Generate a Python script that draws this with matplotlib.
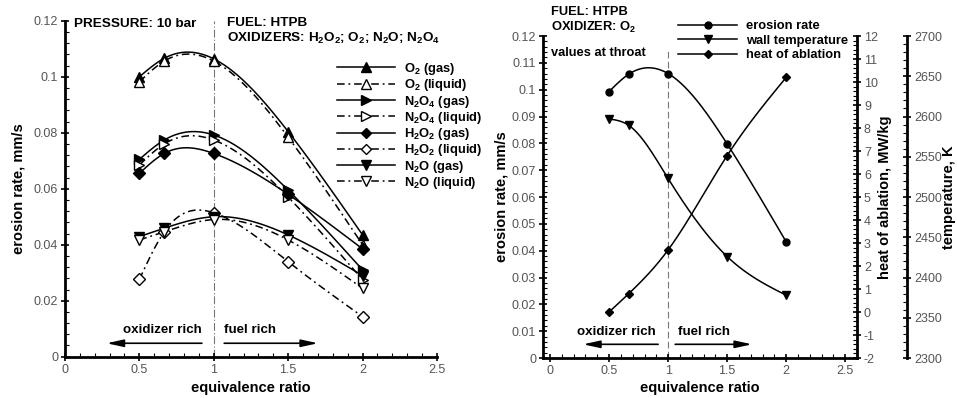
import numpy as np
import matplotlib
matplotlib.use('Agg')
import matplotlib.pyplot as plt
from matplotlib.lines import Line2D
from matplotlib.ticker import MultipleLocator, FuncFormatter

plt.rcParams['font.family'] = ['Liberation Sans', 'DejaVu Sans']
plt.rcParams['mathtext.fontset'] = 'custom'
plt.rcParams['mathtext.rm'] = 'Liberation Sans:bold'
plt.rcParams['mathtext.default'] = 'rm'

# equivalence ratio
phi = [0.5, 0.667, 1.0, 1.5, 2.0]

# erosion rate [mm/s] at 10 bar, HTPB fuel
o2_gas = [0.1000, 0.1066, 0.1064, 0.0804, 0.0435]
o2_liq = [0.0982, 0.1056, 0.1056, 0.0784, 0.0400]
n2o4_gas = [0.0705, 0.0774, 0.0792, 0.0595, 0.0310]
n2o4_liq = [0.0685, 0.0760, 0.0774, 0.0570, 0.0275]
h2o2_gas = [0.0655, 0.0726, 0.0726, 0.0580, 0.0385]
h2o2_liq = [0.0276, 0.0446, 0.0514, 0.0339, 0.0143]
n2o_gas = [0.0429, 0.0459, 0.0500, 0.0435, 0.0290]
n2o_liq = [0.0417, 0.0446, 0.0490, 0.0417, 0.0244]

# O2 / HTPB, values at throat
erosion = [0.0993, 0.1058, 0.1060, 0.0798, 0.0433]
wall_temp = [2597, 2589, 2523, 2426, 2378]
heat_abl = [0.0, 0.8, 2.7, 6.8, 10.2]


def spline(x, y, n=200):
    # natural cubic spline, only used to draw the smooth line through the points
    x = np.asarray(x, float)
    y = np.asarray(y, float)
    h = np.diff(x)
    m = len(x)
    A = np.zeros((m, m))
    b = np.zeros(m)
    A[0, 0] = A[-1, -1] = 1
    for i in range(1, m - 1):
        A[i, i - 1] = h[i - 1]
        A[i, i] = 2 * (h[i - 1] + h[i])
        A[i, i + 1] = h[i]
        b[i] = 3 * ((y[i + 1] - y[i]) / h[i] - (y[i] - y[i - 1]) / h[i - 1])
    c = np.linalg.solve(A, b)
    xs = np.linspace(x[0], x[-1], n)
    k = np.clip(np.searchsorted(x, xs) - 1, 0, m - 2)
    dx = xs - x[k]
    bb = (y[k + 1] - y[k]) / h[k] - h[k] * (2 * c[k] + c[k + 1]) / 3
    d = (c[k + 1] - c[k]) / (3 * h[k])
    return xs, y[k] + bb * dx + c[k] * dx ** 2 + d * dx ** 3


dashdot = (0, (5, 2.5, 1.2, 2.5))
fmt = FuncFormatter(lambda v, p: '%g' % round(v, 4))
tick_col = '#555555'
lab_size = 10.5
txt_size = 9.3


def style_ticks(ax, axis='both'):
    ax.tick_params(axis=axis, which='major', direction='inout', length=6, width=1.2,
                   labelsize=9, labelcolor=tick_col, pad=2)
    ax.tick_params(axis=axis, which='minor', direction='in', length=3, width=0.8)


fig = plt.figure(figsize=(9.57, 3.98), dpi=100)

# ---------------- left: erosion rate for all oxidizers
ax = fig.add_axes([0.0679, 0.1038, 0.3887, 0.844])
series = [
    (o2_gas, '^', 'k', '-', 'O$_2$ (gas)'),
    (o2_liq, '^', 'w', dashdot, 'O$_2$ (liquid)'),
    (n2o4_gas, '>', 'k', '-', 'N$_2$O$_4$ (gas)'),
    (n2o4_liq, '>', 'w', dashdot, 'N$_2$O$_4$ (liquid)'),
    (h2o2_gas, 'D', 'k', '-', 'H$_2$O$_2$ (gas)'),
    (h2o2_liq, 'D', 'w', dashdot, 'H$_2$O$_2$ (liquid)'),
    (n2o_gas, 'v', 'k', '-', 'N$_2$O (gas)'),
    (n2o_liq, 'v', 'w', dashdot, 'N$_2$O (liquid)'),
]
handles = []
for vals, mk, fc, ls, lab in series:
    ms = 6.5 if mk == 'D' else 7.5
    xs, ys = spline(phi, vals)
    ax.plot(xs, ys, color='k', lw=1.1, ls=ls, zorder=2)
    ax.plot(phi, vals, ls='none', marker=mk, ms=ms, mfc=fc, mec='k', mew=1.0, zorder=3)
    handles.append(Line2D([], [], color='k', lw=1.1, ls=ls, marker=mk, ms=ms - 1,
                          mfc=fc, mec='k', mew=1.0, label=lab))

ax.axvline(1.0, color='#777777', lw=0.8, ls=(0, (7, 2, 1, 2)), zorder=1)
ax.set_xlim(0, 2.5)
ax.set_ylim(0, 0.12)
ax.xaxis.set_major_locator(MultipleLocator(0.5))
ax.xaxis.set_minor_locator(MultipleLocator(0.1))
ax.yaxis.set_major_locator(MultipleLocator(0.02))
ax.yaxis.set_minor_locator(MultipleLocator(0.004))
ax.xaxis.set_major_formatter(fmt)
ax.yaxis.set_major_formatter(fmt)
for s in ['top', 'right']:
    ax.spines[s].set_visible(False)
for s in ['left', 'bottom']:
    ax.spines[s].set_linewidth(2.0)
style_ticks(ax)
ax.set_xlabel('equivalence ratio', fontsize=lab_size, fontweight='bold', va='center')
ax.set_ylabel('erosion rate, mm/s', fontsize=lab_size, fontweight='bold', va='center')
ax.xaxis.set_label_coords(0.5, -0.093)
ax.yaxis.set_label_coords(-0.126, 0.5)

fig.legend(handles=handles, loc='upper left', bbox_to_anchor=(337 / 957, 1 - 61 / 398),
           frameon=False, borderpad=0, borderaxespad=0, handlelength=4.5,
           handletextpad=0.7, labelspacing=0.02, prop=dict(size=txt_size, weight='bold'))

fig.text(74 / 957, 1 - 24 / 398, 'PRESSURE: 10 bar', fontsize=txt_size + 0.4,
         fontweight='bold', va='center')
fig.text(227 / 957, 1 - 23 / 398, 'FUEL: HTPB', fontsize=txt_size + 0.4,
         fontweight='bold', va='center')
fig.text(227 / 957, 1 - 38 / 398, 'OXIDIZERS: H$_2$O$_2$; O$_2$; N$_2$O; N$_2$O$_4$',
         fontsize=txt_size + 0.4, fontweight='bold', va='center')

arrow = dict(arrowstyle='-|>,head_length=1.0,head_width=0.22', color='k', lw=1.2,
             shrinkA=0, shrinkB=0)
ax.annotate('', xy=(0.28, 0.0048), xytext=(0.92, 0.0048), arrowprops=arrow)
ax.annotate('', xy=(1.70, 0.0048), xytext=(1.07, 0.0048), arrowprops=arrow)
ax.text(0.655, 0.0095, 'oxidizer rich', ha='center', va='center', fontsize=txt_size + 0.3,
        fontweight='bold')
ax.text(1.245, 0.0095, 'fuel rich', ha='center', va='center', fontsize=txt_size + 0.3,
        fontweight='bold')

# ---------------- right: O2 erosion rate, wall temperature, heat of ablation
bx = fig.add_axes([543 / 957, 0.1005, 314 / 957, 0.809])
hx = bx.twinx()
tx = bx.twinx()

xs, ys = spline(phi, erosion)
bx.plot(xs, ys, color='k', lw=1.1)
bx.plot(phi, erosion, ls='none', marker='o', ms=5, color='k')
xs, ys = spline(phi, wall_temp)
tx.plot(xs, ys, color='k', lw=1.1)
tx.plot(phi, wall_temp, ls='none', marker='v', ms=5.5, color='k')
xs, ys = spline(phi, heat_abl)
hx.plot(xs, ys, color='k', lw=1.1)
hx.plot(phi, heat_abl, ls='none', marker='D', ms=4.5, color='k')

bx.axvline(1.0, ymax=0.957, color='#777777', lw=0.8, ls=(0, (6, 3)), zorder=1)

bx.set_xlim(-0.06, 2.6)
bx.set_ylim(0, 0.12)
hx.set_ylim(-2, 12)
tx.set_ylim(2300, 2700)
bx.xaxis.set_major_locator(MultipleLocator(0.5))
bx.xaxis.set_minor_locator(MultipleLocator(0.1))
bx.yaxis.set_major_locator(MultipleLocator(0.01))
bx.yaxis.set_minor_locator(MultipleLocator(0.002))
hx.yaxis.set_major_locator(MultipleLocator(1))
hx.yaxis.set_minor_locator(MultipleLocator(0.2))
tx.yaxis.set_major_locator(MultipleLocator(50))
tx.yaxis.set_minor_locator(MultipleLocator(10))
bx.xaxis.set_major_formatter(fmt)
bx.yaxis.set_major_formatter(fmt)
hx.yaxis.set_major_formatter(fmt)

for a in (bx, hx, tx):
    a.spines['top'].set_visible(False)
bx.spines['right'].set_visible(False)
for a in (hx, tx):
    a.spines['left'].set_visible(False)
    a.spines['bottom'].set_visible(False)
    a.spines['right'].set_linewidth(2.0)
tx.spines['right'].set_position(('axes', 1 + 50 / 314))
bx.spines['left'].set_linewidth(2.0)
bx.spines['bottom'].set_linewidth(2.0)
style_ticks(bx)
style_ticks(hx, 'y')
style_ticks(tx, 'y')

bx.set_xlabel('equivalence ratio', fontsize=lab_size, fontweight='bold', va='center')
bx.set_ylabel('erosion rate, mm/s', fontsize=lab_size, fontweight='bold', va='center')
hx.set_ylabel('heat of ablation, MW/kg', fontsize=lab_size, fontweight='bold', va='center')
tx.set_ylabel('temperature, K', fontsize=lab_size, fontweight='bold', va='center')
bx.xaxis.set_label_coords(0.5, -0.093)
bx.yaxis.set_label_coords((502 - 543) / 314, 0.5)
hx.yaxis.set_label_coords((885 - 543) / 314, 0.5)
tx.yaxis.set_label_coords((949 - 543) / 314, 0.5)

rhandles = [
    Line2D([], [], color='k', lw=1.1, marker='o', ms=5, label='erosion rate'),
    Line2D([], [], color='k', lw=1.1, marker='v', ms=5.5, label='wall temperature'),
    Line2D([], [], color='k', lw=1.1, marker='D', ms=4.5, label='heat of ablation'),
]
fig.legend(handles=rhandles, loc='upper left', bbox_to_anchor=(678 / 957, 1 - 20 / 398),
           frameon=False, borderpad=0, borderaxespad=0, handlelength=4.6,
           handletextpad=0.7, labelspacing=0.2, prop=dict(size=txt_size, weight='bold'))

fig.text(551 / 957, 1 - 12 / 398, 'FUEL: HTPB', fontsize=txt_size, fontweight='bold', va='center')
fig.text(551 / 957, 1 - 27 / 398, 'OXIDIZER: O$_2$', fontsize=txt_size, fontweight='bold',
         va='center')
fig.text(551 / 957, 1 - 53 / 398, 'values at throat', fontsize=txt_size, fontweight='bold',
         va='center')

bx.annotate('', xy=(0.28, 0.0051), xytext=(0.915, 0.0051), arrowprops=arrow)
bx.annotate('', xy=(1.71, 0.0051), xytext=(1.06, 0.0051), arrowprops=arrow)
bx.text(0.565, 0.0098, 'oxidizer rich', ha='center', va='center', fontsize=txt_size + 0.3,
        fontweight='bold')
bx.text(1.30, 0.0098, 'fuel rich', ha='center', va='center', fontsize=txt_size + 0.3,
        fontweight='bold')

fig.savefig('out.png', dpi=100)
